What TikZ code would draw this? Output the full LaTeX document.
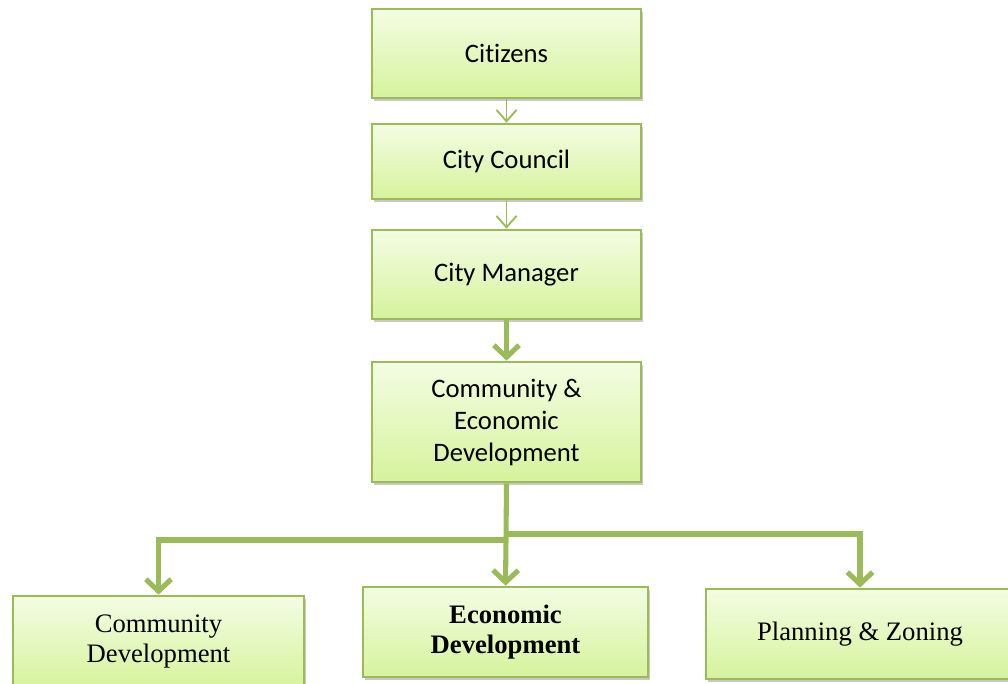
\documentclass[tikz,border=0pt]{standalone}
\usepackage{fontspec}
\usetikzlibrary{arrows.meta,shadows}
\newfontfamily\calfont[Ligatures=NoCommon]{Carlito}
\newfontfamily\timesfont{Liberation Serif}
\definecolor{olivegreen}{HTML}{9BBB59}
\definecolor{boxtop}{HTML}{F3FDE3}
\definecolor{boxbottom}{HTML}{D6F39C}
\tikzset{
  orgbox/.style={draw=olivegreen, line width=2pt, top color=boxtop, bottom color=boxbottom,
    drop shadow={shadow xshift=1.5pt, shadow yshift=-2pt, opacity=0.3, fill=black!70},
    align=center, inner sep=0pt},
  topfont/.style={font=\calfont\fontsize{20}{24}\selectfont},
  lowfont/.style={font=\timesfont\fontsize{20}{22.5}\selectfont},
  thinlink/.style={draw=olivegreen, line width=1.4pt,
    -{Straight Barb[length=8.5pt,width=15pt,line width=1.4pt]}},
  thicklink/.style={draw=olivegreen, line width=3.8pt,
    -{Straight Barb[length=9pt,width=19pt,line width=3.8pt]}},
  thickline/.style={draw=olivegreen, line width=3.8pt}
}
\begin{document}
\begin{tikzpicture}[x=0.75pt,y=-0.75pt]
  \useasboundingbox (0,0) rectangle (1008,683);
  \clip (0,0) rectangle (1008,683);

  % chain of command
  \node[orgbox, topfont, minimum width=201.75pt, minimum height=66.75pt] (cit) at (506.5,53.5) {Citizens};
  \node[orgbox, topfont, minimum width=201.75pt, minimum height=56.25pt] (cc) at (506.5,161.5) {\raisebox{-2pt}{City Council}};
  \node[orgbox, topfont, minimum width=201.75pt, minimum height=66.75pt] (cm) at (506.5,274.5) {\raisebox{-2pt}{City Manager}};
  \node[orgbox, topfont, minimum width=201.75pt, minimum height=90pt] (ced) at (506.5,422)
    {Community \&\\Economic\\Development};

  % divisions
  \node[orgbox, lowfont, minimum width=218.25pt, minimum height=69pt] (cd) at (158.5,642)
    {Community\\Development};
  \node[orgbox, lowfont, minimum width=213.75pt, minimum height=67.5pt] (ed) at (505.5,632)
    {\bfseries Economic\\\bfseries Development};
  \node[orgbox, lowfont, minimum width=231pt, minimum height=67.5pt] (pz) at (860,634)
    {Planning \& Zoning};

  % connectors
  \draw[thinlink] (cit.south) -- (cc.north);
  \draw[thinlink] (cc.south) -- (cm.north);
  \draw[thicklink] (cm.south) -- (ced.north);

  \coordinate (jl) at (506,540);
  \coordinate (jr) at (508,534);
  \draw[thickline] (ced.south) -- (jl);
  \draw[thicklink] (jl) -| (cd.north);
  \draw[thicklink] (jl) -- (ed.north);
  \draw[thicklink] (jr) -| (pz.north);
\end{tikzpicture}
\end{document}
